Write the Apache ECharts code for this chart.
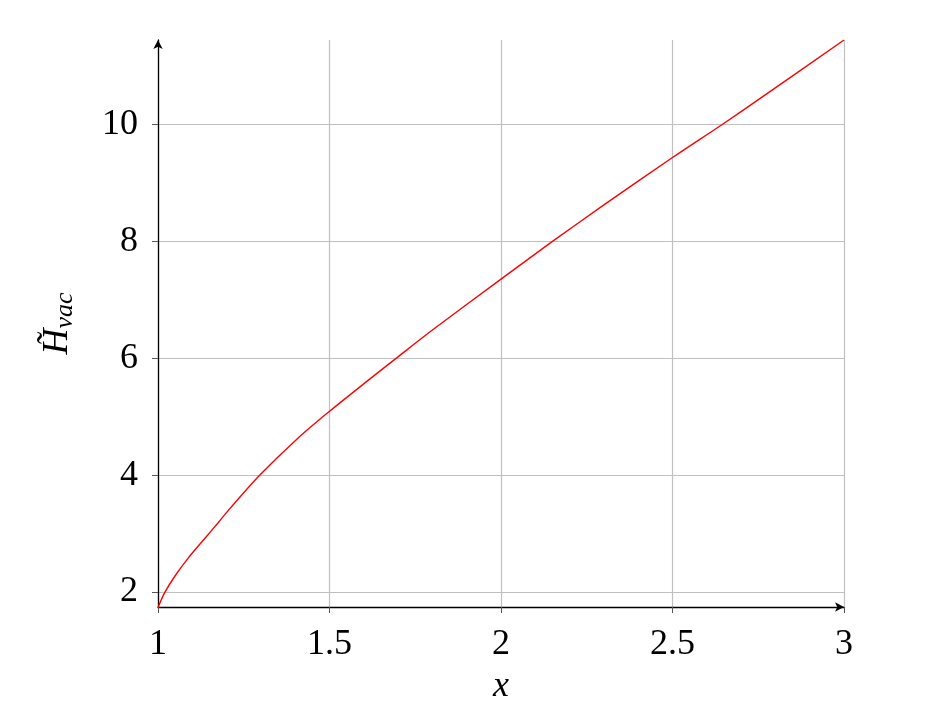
<!DOCTYPE html>
<html>
<head>
<meta charset="utf-8">
<script src="https://cdn.jsdelivr.net/npm/echarts@6/dist/echarts.min.js"></script>
<style>html,body{margin:0;padding:0;background:#fff;}#c{width:929px;height:725px;}</style>
</head>
<body>
<div id="c"></div>
<script>
const xValues = [1, 1.0195, 1.049, 1.088, 1.137, 1.176, 1.21, 1.297, 1.404, 1.5, 1.617, 1.695, 1.8, 2.0, 2.151, 2.3, 2.5, 2.646, 2.743, 3.0];
const hValues = [1.736, 1.99, 2.27, 2.58, 2.92, 3.19, 3.43, 4.0, 4.61, 5.09, 5.64, 6.0, 6.48, 7.35, 8.0, 8.62, 9.43, 10.0, 10.39, 11.44];
const yTicks = [2, 4, 6, 8, 10];
const xMin = 1, xMax = 3, xStep = 0.5;
const yMin = 1.744, yMax = 11.44;

const font = '"Liberation Serif", "DejaVu Serif", serif';
const chart = echarts.init(document.getElementById('c'));
chart.setOption({
  animation: false,
  grid: {left: 158, right: 85, top: 40, bottom: 118},
  xAxis: {
    type: 'value', min: xMin, max: xMax, interval: xStep,
    name: 'x', nameLocation: 'middle', nameGap: 62,
    nameTextStyle: {fontFamily: font, fontStyle: 'italic', fontSize: 36, color: '#000'},
    axisLine: {show: true, symbol: ['none', 'arrow'], symbolSize: [7, 9], lineStyle: {color: '#000', width: 1.3}},
    axisTick: {show: true, inside: false, length: 6, lineStyle: {color: '#555'}},
    axisLabel: {fontFamily: font, fontSize: 36, color: '#000', margin: 20,
      formatter: v => String(v)},
    splitLine: {show: true, lineStyle: {color: '#c0c0c0', width: 1.2}}
  },
  yAxis: {
    type: 'value', min: yMin, max: yMax,
    name: '{h|H\u0303}{s|vac}', nameLocation: 'middle', nameGap: 80, nameRotate: 90,
    nameTextStyle: {
      rich: {
        h: {fontFamily: font, fontStyle: 'italic', fontSize: 36, color: '#000'},
        s: {fontFamily: font, fontStyle: 'italic', fontSize: 26, color: '#000', padding: [14, 0, 0, 0]}
      }
    },
    axisLine: {show: true, symbol: ['none', 'arrow'], symbolSize: [7, 9], lineStyle: {color: '#000', width: 1.3}},
    axisTick: {show: true, length: 6, customValues: yTicks, lineStyle: {color: '#555'}},
    axisLabel: {fontFamily: font, fontSize: 36, color: '#000', margin: 20, customValues: yTicks},
    splitLine: {show: true, lineStyle: {color: '#c0c0c0', width: 1.2}}
  },
  series: [{
    type: 'line',
    data: xValues.map((x, i) => [x, hValues[i]]),
    showSymbol: false,
    smooth: 0.3,
    lineStyle: {color: '#ff0000', width: 1.4},
    clip: true
  }]
});
</script>
</body>
</html>
